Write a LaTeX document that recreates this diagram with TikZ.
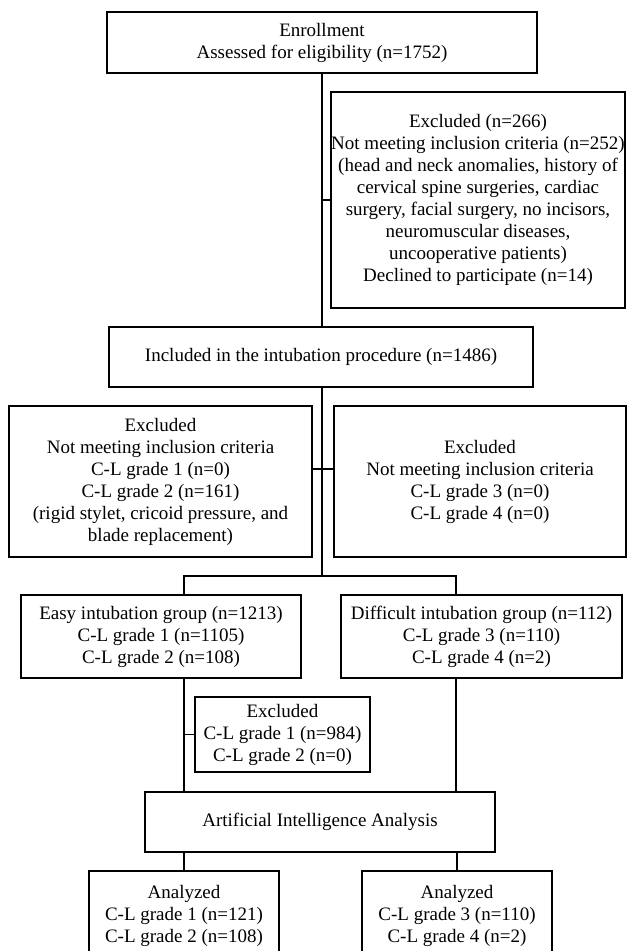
\documentclass[tikz,border=0pt]{standalone}
\usepackage{fontspec}
\setmainfont{Liberation Serif}
\usetikzlibrary{positioning}
\tikzset{
    flowbox/.style={rectangle, draw=black, line width=1.6pt, align=center, inner sep=0pt, font=\fontsize{19}{22}\selectfont},
    link/.style={line width=1.3pt, color=black},
}
\begin{document}
\begin{tikzpicture}[x=1pt, y=-1pt]
    \useasboundingbox (0,0) rectangle (627,951);

    % Boxes
    \node[flowbox, minimum width=430pt, minimum height=61pt] (enroll) at (322,42.5) {Enrollment\\Assessed for eligibility (n=1752)};
    \node[flowbox, minimum width=294pt, minimum height=216pt] (exclA) at (478,200) {Excluded (n=266)\\Not meeting inclusion criteria (n=252)\\(head and neck anomalies, history of\\cervical spine surgeries, cardiac\\surgery, facial surgery, no incisors,\\neuromuscular diseases,\\uncooperative patients)\\Declined to participate (n=14)};
    \node[flowbox, minimum width=424pt, minimum height=60pt] (incl) at (321,357) {Included in the intubation procedure (n=1486)};
    \node[flowbox, minimum width=303pt, minimum height=151pt] (exclL) at (160.5,481.5) {Excluded\\Not meeting inclusion criteria\\C-L grade 1 (n=0)\\C-L grade 2 (n=161)\\(rigid stylet, cricoid pressure, and\\blade replacement)};
    \node[flowbox, minimum width=292pt, minimum height=151pt] (exclR) at (480,481.5) {Excluded\\Not meeting inclusion criteria\\C-L grade 3 (n=0)\\C-L grade 4 (n=0)};
    \node[flowbox, minimum width=280pt, minimum height=83pt] (easy) at (161,636.5) {Easy intubation group (n=1213)\\C-L grade 1 (n=1105)\\C-L grade 2 (n=108)};
    \node[flowbox, minimum width=281pt, minimum height=83pt] (diff) at (481.5,636.5) {Difficult intubation group (n=112)\\C-L grade 3 (n=110)\\C-L grade 4 (n=2)};
    \node[flowbox, minimum width=175pt, minimum height=75pt] (exclB) at (282.5,734.5) {Excluded\\C-L grade 1 (n=984)\\C-L grade 2 (n=0)};
    \node[flowbox, minimum width=350pt, minimum height=60pt] (ai) at (320,822) {Artificial Intelligence Analysis};
    \node[flowbox, minimum width=190pt, minimum height=90pt] (anL) at (184,916) {Analyzed\\C-L grade 1 (n=121)\\C-L grade 2 (n=108)};
    \node[flowbox, minimum width=190pt, minimum height=90pt] (anR) at (457,916) {Analyzed\\C-L grade 3 (n=110)\\C-L grade 4 (n=2)};

    % Rails
    \coordinate (split) at (322,576);
    \coordinate (leftrail) at (184,576);
    \coordinate (rightrail) at (456,576);
    \coordinate (midlink) at (322,469);

    % Connectors
    \draw[link] (enroll.south) -- (enroll.south |- incl.north);
    \draw[link] (exclA.west -| enroll.south) -- (exclA.west);
    \draw[link] (incl.south -| split) -- (split);
    \draw[link] (exclL.east |- midlink) -- (exclR.west |- midlink);
    \draw[link] (easy.north -| leftrail) -- (leftrail) -- (rightrail) -- (diff.north -| rightrail);
    \draw[link] (easy.south -| leftrail) -- (ai.north -| leftrail);
    \draw[link] (diff.south -| rightrail) -- (ai.north -| rightrail);
    \draw[link] (exclB.west -| leftrail) -- (exclB.west);
    \draw[link] (ai.south -| anL.north) -- (anL.north);
    \draw[link] (ai.south -| anR.north) -- (anR.north);
\end{tikzpicture}
\end{document}
